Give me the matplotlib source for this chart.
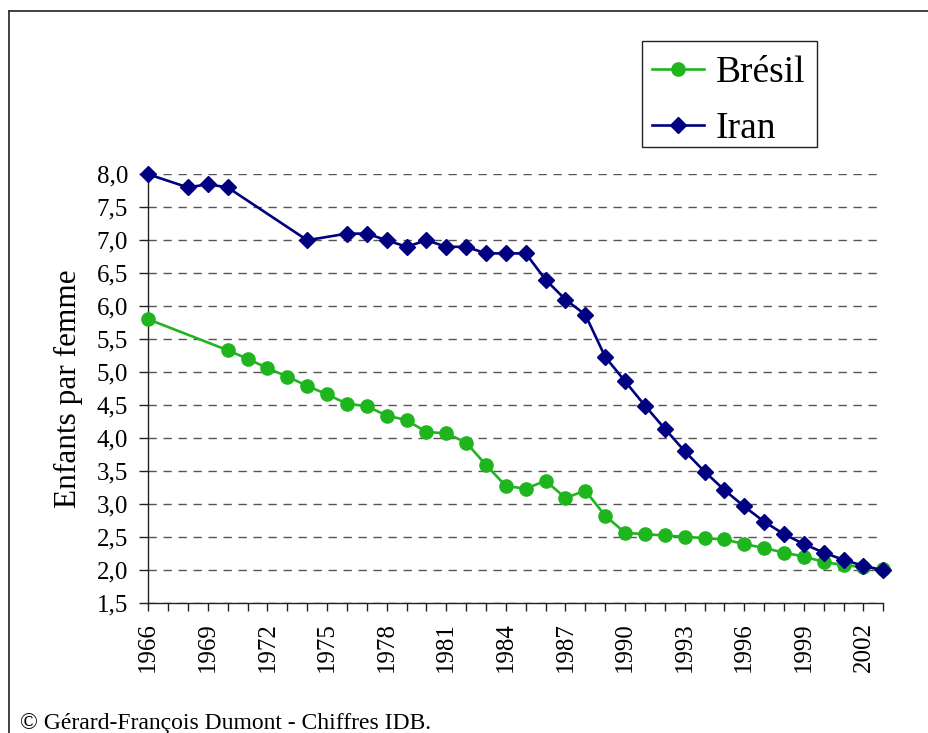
import matplotlib
matplotlib.use("Agg")
import matplotlib.pyplot as plt
from matplotlib.lines import Line2D
from matplotlib.patches import Rectangle

plt.rcParams['font.family'] = ['Liberation Serif', 'DejaVu Serif']

bresil_years = [1966, 1970, 1971, 1972, 1973, 1974, 1975, 1976, 1977, 1978, 1979,
                1980, 1981, 1982, 1983, 1984, 1985, 1986, 1987, 1988, 1989, 1990,
                1991, 1992, 1993, 1994, 1995, 1996, 1997, 1998, 1999, 2000, 2001,
                2002, 2003]
bresil_values = [5.80, 5.33, 5.20, 5.06, 4.93, 4.79, 4.66, 4.52, 4.48, 4.34, 4.27,
                 4.09, 4.07, 3.93, 3.59, 3.27, 3.23, 3.35, 3.09, 3.20, 2.82, 2.56,
                 2.54, 2.52, 2.50, 2.48, 2.46, 2.39, 2.33, 2.26, 2.20, 2.12, 2.07,
                 2.04, 2.01]

iran_years = [1966, 1968, 1969, 1970, 1974, 1976, 1977, 1978, 1979, 1980, 1981,
              1982, 1983, 1984, 1985, 1986, 1987, 1988, 1989, 1990, 1991, 1992,
              1993, 1994, 1995, 1996, 1997, 1998, 1999, 2000, 2001, 2002, 2003]
iran_values = [8.00, 7.80, 7.85, 7.80, 7.00, 7.10, 7.10, 7.00, 6.90, 7.00, 6.90,
               6.90, 6.80, 6.80, 6.80, 6.40, 6.10, 5.87, 5.23, 4.86, 4.49, 4.14,
               3.80, 3.49, 3.21, 2.96, 2.73, 2.54, 2.39, 2.26, 2.15, 2.06, 1.99]

year_ticks = list(range(1966, 2004))
year_labels = [str(y) if (y - 1966) % 3 == 0 else '' for y in year_ticks]
y_ticks = [1.5, 2.0, 2.5, 3.0, 3.5, 4.0, 4.5, 5.0, 5.5, 6.0, 6.5, 7.0, 7.5, 8.0]
y_labels = [f"{v:.1f}".replace('.', ',') for v in y_ticks]

W, H = 929, 733
fig = plt.figure(figsize=(W / 100, H / 100), dpi=100)
ax = fig.add_axes([148.3 / W, 1 - 602.7 / H, (883.3 - 148.3) / W, (602.7 - 174.3) / H])

green = '#1fb51f'
navy = '#000080'

ax.plot(bresil_years, bresil_values, color=green, lw=1.9, marker='o',
        markersize=9.5, label='Brésil', zorder=3, clip_on=False)
ax.plot(iran_years, iran_values, color=navy, lw=1.9, marker='D',
        markersize=7.8, label='Iran', zorder=4, clip_on=False)

ax.set_xlim(1966, 2003)
ax.set_ylim(1.5, 8.0)
ax.set_xticks(year_ticks)
ax.set_xticklabels(year_labels, rotation=90, fontsize=18)
ax.set_yticks(y_ticks)
ax.set_yticklabels(y_labels, fontsize=18)
ax.tick_params(axis='x', direction='out', length=6, width=1, pad=8, color='#222222')
ax.tick_params(axis='y', direction='out', length=6.5, width=1, pad=8, color='#222222')

for s in ['top', 'right']:
    ax.spines[s].set_visible(False)
for s in ['left', 'bottom']:
    ax.spines[s].set_linewidth(1)
    ax.spines[s].set_color('#222222')

ax.yaxis.grid(True, color='#555555', lw=1, linestyle=(0, (6, 4.8)))
ax.set_axisbelow(True)

ax.set_ylabel('Enfants par femme', fontsize=22.5, labelpad=10)

# legend frame drawn separately, entries placed inside
fig.add_artist(Rectangle((642 / W, 1 - 147 / H), (817 - 642) / W, (147 - 41) / H,
                         transform=fig.transFigure, facecolor='white',
                         edgecolor='#222222', lw=1, zorder=5))
leg = fig.legend(loc='upper left', bbox_to_anchor=(652 / W, 1 - 56 / H),
                 fontsize=27, frameon=False,
                 handlelength=1.4, handletextpad=0.3, labelspacing=0.56,
                 borderpad=0, borderaxespad=0)
leg.set_zorder(6)

fig.add_artist(Line2D([9 / W, 9 / W], [0, 1 - 11 / H], color='#333333', lw=1.3))
fig.add_artist(Line2D([9 / W, 1], [1 - 11 / H, 1 - 11 / H], color='#333333', lw=1.3))

fig.text(20 / W, 1 - 729.5 / H, '© Gérard-François Dumont - Chiffres IDB.',
         fontsize=17, va='baseline', ha='left')

fig.savefig('out.png', dpi=100)
